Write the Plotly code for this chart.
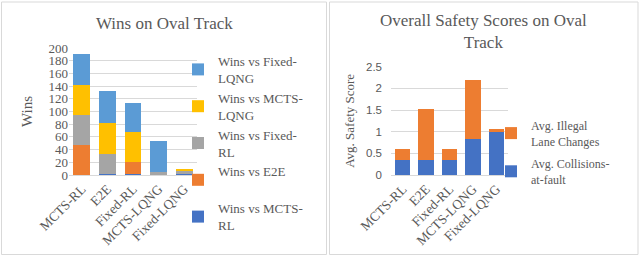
import plotly.graph_objects as go

# ---- data ----
agents = ["MCTS-RL", "E2E", "Fixed-RL", "MCTS-LQNG", "Fixed-LQNG"]

wins_legend_labels = ["Wins vs MCTS-<br>RL", "Wins vs E2E<br> ", "Wins vs Fixed-<br>RL",
                      "Wins vs MCTS-<br>LQNG", "Wins vs Fixed-<br>LQNG"]
wins_vs_mcts_rl = [0, 2, 2, 1, 1]
wins_vs_e2e = [47, 0, 18, 0, 0]
wins_vs_fixed_rl = [47, 31, 0, 3, 6]
wins_vs_mcts_lqng = [48, 49, 48, 0, 2]
wins_vs_fixed_lqng = [48, 50, 45, 50, 0]
wins_colors = ["#4472C4", "#ED7D31", "#A5A5A5", "#FFC000", "#5B9BD5"]

avg_collisions = [0.35, 0.35, 0.35, 0.84, 1.00]
avg_illegal_lane = [0.24, 1.17, 0.25, 1.36, 0.07]
safety_labels = ["Avg. Collisions-<br>at-fault", "Avg. Illegal<br>Lane Changes"]
safety_colors = ["#4472C4", "#ED7D31"]

wins_ticks = [0, 20, 40, 60, 80, 100, 120, 140, 160, 180, 200]
safety_ticks = [0, 0.5, 1, 1.5, 2, 2.5]
safety_tick_text = ["0", "0.5", "1", "1.5", "2", "2.5"]

SERIF = "Liberation Serif, Times New Roman, DejaVu Serif, serif"
SANS = "Liberation Sans, Arial, sans-serif"
TXT = "#595959"

fig = go.Figure()

wins_data = [wins_vs_mcts_rl, wins_vs_e2e, wins_vs_fixed_rl, wins_vs_mcts_lqng, wins_vs_fixed_lqng]
for i, (vals, lab, col) in enumerate(zip(wins_data, wins_legend_labels, wins_colors)):
    fig.add_trace(go.Bar(x=agents, y=vals, name=lab, marker=dict(color=col, line=dict(width=0)),
                         xaxis="x", yaxis="y", legend="legend", legendgroup=f"w{i}",
                         legendrank=100 - i))

for i, (vals, lab, col) in enumerate(zip([avg_collisions, avg_illegal_lane], safety_labels, safety_colors)):
    fig.add_trace(go.Bar(x=agents, y=vals, name=lab, marker=dict(color=col, line=dict(width=0)),
                         xaxis="x2", yaxis="y2", legend="legend2", legendgroup=f"s{i}",
                         legendrank=100 - i))

W, H = 640, 257
def px(x): return x / W
def py(y): return 1 - y / H

fig.update_layout(
    width=W, height=H, margin=dict(l=0, r=0, t=0, b=0, autoexpand=False),
    paper_bgcolor="white", plot_bgcolor="white",
    barmode="stack", bargap=0.34,
    font=dict(family=SERIF, color=TXT),
    xaxis=dict(domain=[px(69), px(197)], anchor="y", tickangle=-45, automargin=False,
               tickfont=dict(family=SERIF, size=13.5, color=TXT),
               showline=True, linecolor="#d9d9d9", showgrid=False, ticks=""),
    yaxis=dict(domain=[py(175), py(48)], anchor="x", range=[0, 200], automargin=False,
               tickvals=wins_ticks, tickfont=dict(family=SERIF, size=13, color=TXT),
               gridcolor="#d9d9d9", zeroline=False, showline=False,
               title=dict(text="Wins", font=dict(family=SERIF, size=15, color=TXT), standoff=12)),
    xaxis2=dict(domain=[px(391), px(508)], anchor="y2", tickangle=-45, automargin=False,
                tickfont=dict(family=SERIF, size=13.5, color=TXT),
                showline=True, linecolor="#d9d9d9", showgrid=False, ticks=""),
    yaxis2=dict(domain=[py(175), py(66.7)], anchor="x2", range=[0, 2.5], automargin=False,
                tickvals=safety_ticks, ticktext=safety_tick_text, ticklabelstandoff=8,
                tickfont=dict(family=SANS, size=11.5, color=TXT),
                gridcolor="#d9d9d9", zeroline=False, showline=False,
                title=dict(text="Avg. Safety Score", font=dict(family=SERIF, size=13, color=TXT), standoff=8)),
    legend=dict(x=px(178), y=py(46), xanchor="left", yanchor="top", traceorder="grouped",
                font=dict(family=SERIF, size=13, color=TXT), itemwidth=30, tracegroupgap=0,
                bgcolor="rgba(0,0,0,0)"),
    legend2=dict(x=px(491), y=py(111), xanchor="left", yanchor="top", traceorder="grouped",
                 font=dict(family=SERIF, size=12, color=TXT), itemwidth=30, tracegroupgap=4,
                 bgcolor="rgba(0,0,0,0)"),
    annotations=[
        dict(text="Wins on Oval Track", x=px(164), y=py(23), xref="paper", yref="paper",
             showarrow=False, xanchor="center", yanchor="middle",
             font=dict(family=SERIF, size=17, color=TXT)),
        dict(text="Overall Safety Scores on Oval<br>Track", x=px(483), y=py(31), xref="paper", yref="paper",
             showarrow=False, xanchor="center", yanchor="middle",
             font=dict(family=SERIF, size=17, color=TXT)),
    ],
    shapes=[
        dict(type="rect", xref="paper", yref="paper", x0=px(1.5), x1=px(326.5), y0=py(254.5), y1=py(2),
             line=dict(color="#d9d9d9", width=1)),
        dict(type="rect", xref="paper", yref="paper", x0=px(329.5), x1=px(638), y0=py(254.5), y1=py(2),
             line=dict(color="#d9d9d9", width=1)),
    ],
)

fig.write_html("out.html", config={"displayModeBar": False},
               post_script="document.body.style.margin='0';document.body.style.overflow='hidden';")
